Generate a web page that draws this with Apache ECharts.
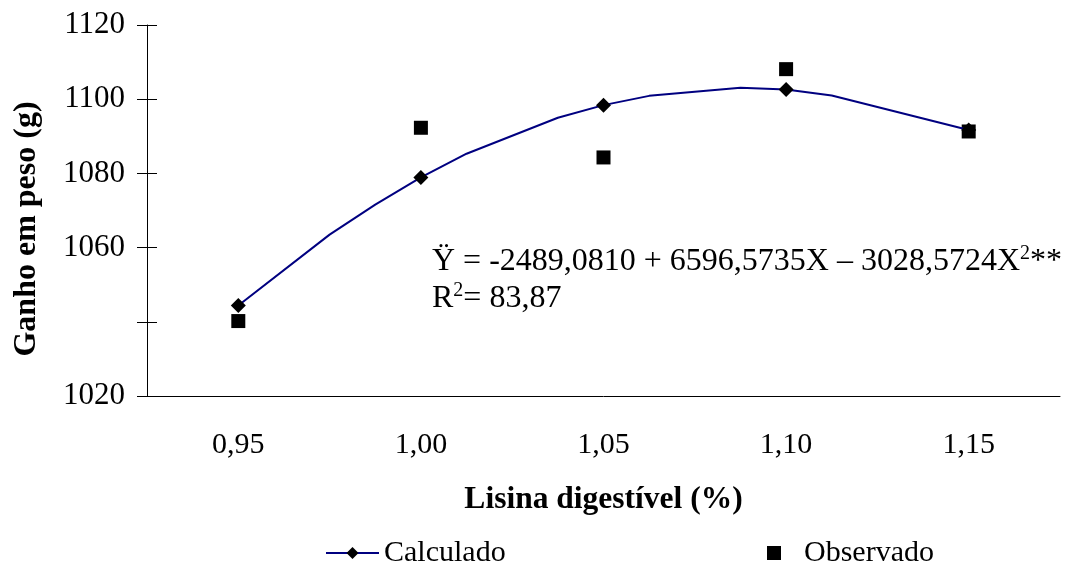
<!DOCTYPE html>
<html>
<head>
<meta charset="utf-8">
<script src="https://cdn.jsdelivr.net/npm/echarts@6/dist/echarts.min.js"></script>
<style>
  html, body { margin: 0; padding: 0; background: #fff; }
  #main { width: 1067px; height: 563px; }
</style>
</head>
<body>
<div id="main"></div>
<script>
// categorias do eixo x (lisina digestível, %)
const categories = ['0,95', '1,00', '1,05', '1,10', '1,15'];
// valores observados
const observado = [1040.2, 1092.3, 1084.3, 1108.1, 1091.3];
// curva calculada
const calcX = [0.95, 0.975, 0.9875, 1.00, 1.0125, 1.0375, 1.05, 1.0625, 1.0875, 1.10, 1.1125, 1.15];
const calcY = [1044.4, 1063.5, 1071.6, 1078.9, 1085.3, 1095.0, 1098.4, 1100.9, 1103.1, 1102.6, 1101.0, 1091.7];
// pontos com marcador (os niveis de lisina)
const calcMarked = [0.95, 1.00, 1.05, 1.10, 1.15];
// rotulos do eixo y (1040 sem rotulo na figura)
const yTickLabels = { 1020: '1020', 1040: '', 1060: '1060', 1080: '1080', 1100: '1100', 1120: '1120' };

const font = '"Liberation Serif", "Times New Roman", serif';
const chart = echarts.init(document.getElementById('main'));

const calcData = calcX.map((x, i) => {
  const marked = calcMarked.indexOf(x) >= 0;
  return { value: [x, calcY[i]], symbol: marked ? 'diamond' : 'none', symbolSize: 15 };
});

const eqRich = {
  n: { fontFamily: font, fontSize: 32, lineHeight: 36, fill: '#000' },
  s: { fontFamily: font, fontSize: 20, lineHeight: 20, verticalAlign: 'top', fill: '#000' }
};

chart.setOption({
  animation: false,
  backgroundColor: '#fff',
  grid: { left: 147, right: 7, top: 25, bottom: 167 },
  legend: [
    {
      data: ['Calculado'],
      left: 320, top: 533,
      itemWidth: 53, itemHeight: 15,
      textStyle: { fontFamily: font, fontSize: 30, lineHeight: 30, color: '#000' }
    },
    {
      data: ['Observado'],
      left: 762, top: 533,
      itemWidth: 14, itemHeight: 14,
      textStyle: { fontFamily: font, fontSize: 30, lineHeight: 30, color: '#000', padding: [0, 0, 0, 18] }
    }
  ],
  xAxis: [
    {
      type: 'category',
      data: categories,
      position: 'bottom',
      name: 'Lisina digestível (%)',
      nameLocation: 'middle',
      nameGap: 88,
      nameTextStyle: { fontFamily: font, fontSize: 31.5, fontWeight: 'bold', color: '#000' },
      axisLine: { lineStyle: { color: '#000', width: 1 } },
      axisTick: { length: 10, lineStyle: { color: '#000' } },
      axisLabel: { margin: 34, fontFamily: font, fontSize: 30, color: '#000' },
      splitLine: { show: false }
    },
    {
      type: 'category',
      data: categories,
      position: 'bottom',
      axisLine: { show: false },
      axisTick: { inside: true, length: 10, lineStyle: { color: '#000' } },
      axisLabel: { show: false },
      splitLine: { show: false }
    },
    {
      type: 'value',
      min: 0.925,
      max: 1.175,
      show: false
    }
  ],
  yAxis: [
    {
      type: 'value',
      min: 1020, max: 1120, interval: 20,
      name: 'Ganho em peso (g)',
      nameLocation: 'middle',
      nameGap: 104,
      nameRotate: 90,
      nameTextStyle: { fontFamily: font, fontSize: 32, fontWeight: 'bold', color: '#000', padding: [0, 37, 0, 0] },
      axisLine: { show: true, lineStyle: { color: '#000', width: 1 } },
      axisTick: { show: true, length: 10, lineStyle: { color: '#000' } },
      axisLabel: {
        margin: 22, fontFamily: font, fontSize: 31, color: '#000',
        formatter: v => yTickLabels[v]
      },
      splitLine: { show: false }
    },
    {
      type: 'value',
      min: 1020, max: 1120, interval: 20,
      position: 'left',
      axisLine: { show: false },
      axisTick: { show: true, inside: true, length: 10, lineStyle: { color: '#000' } },
      axisLabel: { show: false },
      splitLine: { show: false }
    }
  ],
  series: [
    {
      name: 'Calculado',
      type: 'line',
      xAxisIndex: 2,
      data: calcData,
      symbol: 'diamond',
      symbolSize: 15,
      lineStyle: { color: '#000080', width: 2 },
      itemStyle: { color: '#000' },
      z: 3
    },
    {
      name: 'Observado',
      type: 'scatter',
      xAxisIndex: 0,
      data: observado,
      symbol: 'rect',
      symbolSize: 14,
      itemStyle: { color: '#000', opacity: 1 },
      z: 2
    }
  ],
  graphic: [
    {
      type: 'text',
      left: 432, top: 244,
      style: {
        text: '{n|Ÿ = -2489,0810 + 6596,5735X – 3028,5724X}{s|2}{n|**}',
        rich: eqRich
      }
    },
    {
      type: 'text',
      left: 432, top: 281,
      style: {
        text: '{n|R}{s|2}{n|= 83,87}',
        rich: eqRich
      }
    }
  ]
});
</script>
</body>
</html>
